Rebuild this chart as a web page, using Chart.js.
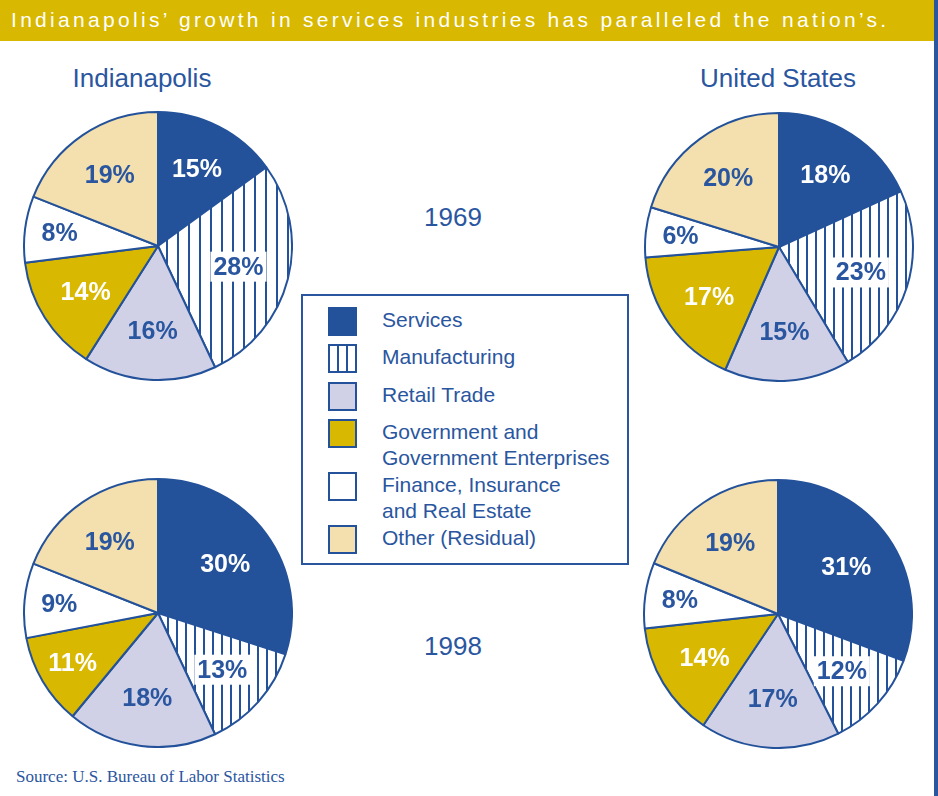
<!DOCTYPE html>
<html>
<head>
<meta charset="utf-8">
<script src="https://cdn.jsdelivr.net/npm/chart.js@4.4.1/dist/chart.umd.min.js"></script>
<style>
  html, body { margin: 0; padding: 0; background: #fff; }
  #page { position: relative; width: 938px; height: 796px; overflow: hidden; font-family: "Liberation Sans", Arial, sans-serif; color: #2a56a0; }
  #bar { position: absolute; left: 0; top: 0; width: 934px; height: 41px; background: #d8b800; }
  #bar span { position: absolute; left: 11px; top: 8px; color: #fff; font-size: 21px; letter-spacing: 3.3px; white-space: nowrap; }
  #edge { position: absolute; left: 934px; top: 0; width: 4px; height: 796px; background: #2a56a0; }
  .place, .year { position: absolute; font-size: 26px; line-height: 30px; text-align: center; width: 240px; margin-left: -120px; }
  .pie { position: absolute; width: 270px; height: 270px; }
  #legend { position: absolute; left: 301px; top: 294px; width: 324px; height: 267px; border: 2px solid #2a56a0; }
  .item { position: absolute; left: 25px; }
  .sw { position: absolute; left: 0; width: 25px; height: 25px; border: 2px solid #24529a; }
  .lbl { position: absolute; left: 54px; font-size: 21px; line-height: 26.5px; white-space: nowrap; }
  #source { position: absolute; left: 16px; top: 767px; font-family: "Liberation Serif", "Times New Roman", serif; font-size: 17px; color: #2a56a0; }
</style>
</head>
<body>
<div id="page">
  <div id="bar"><span>Indianapolis’ growth in services industries has paralleled the nation’s.</span></div>
  <div id="edge"></div>
  <div id="legend"></div>
  <div id="source">Source: U.S. Bureau of Labor Statistics</div>
</div>
<script>
// data
const categories = ['Services', 'Manufacturing', 'Retail Trade', 'Government and\nGovernment Enterprises', 'Finance, Insurance\nand Real Estate', 'Other (Residual)']
const places = ['Indianapolis', 'United States']
const years = ['1969', '1998']
const indy1969 = [15, 28, 16, 14, 8, 19]
const us1969 = [18, 23, 15, 17, 6, 20]
const indy1998 = [30, 13, 18, 11, 9, 19]
const us1998 = [31, 12, 17, 14, 8, 19]

// colours
const blue = '#24529a'
const textBlue = '#2a56a0'
const gold = '#d8b800'

function stripes(step) {
    const c = document.createElement('canvas')
    c.width = step; c.height = 10
    const g = c.getContext('2d')
    g.fillStyle = '#fff'
    g.fillRect(0, 0, step, 10)
    g.fillStyle = blue
    g.fillRect(0, 0, 2, 10)
    return g.createPattern(c, 'repeat')
}

const fills = [blue, null, '#d0d1e6', gold, '#ffffff', '#f4e0ae']
const labelColors = ['#fff', textBlue, textBlue, '#fff', textBlue, textBlue]

const page = document.getElementById('page')

// titles
const titleCols = [142, 778]
places.forEach((p, i) => {
    const d = document.createElement('div')
    d.className = 'place'
    d.style.left = titleCols[i] + 'px'
    d.style.top = '63px'
    d.innerText = p
    page.appendChild(d)
})
const rows = [217, 646]
years.forEach((y, i) => {
    const d = document.createElement('div')
    d.className = 'year'
    d.style.left = '453px'
    d.style.top = (rows[i] - 15) + 'px'
    d.innerText = y
    page.appendChild(d)
})

// legend
const legend = document.getElementById('legend')
const itemTops = [11, 48, 86, 123, 176, 229]
categories.forEach((cat, i) => {
    const it = document.createElement('div')
    it.className = 'item'
    it.style.top = itemTops[i] + 'px'
    const sw = document.createElement('div')
    sw.className = 'sw'
    if (i == 1) {
        sw.style.background = 'repeating-linear-gradient(90deg, #fff 0px, #fff 7px, ' + blue + ' 7px, ' + blue + ' 9px)'
    } else {
        sw.style.background = fills[i]
    }
    const lb = document.createElement('div')
    lb.className = 'lbl'
    lb.style.top = '-0.5px'
    lb.innerText = cat
    it.appendChild(sw)
    it.appendChild(lb)
    legend.appendChild(it)
})

// percent labels on the slices
const pieLabels = {
    id: 'pieLabels',
    afterDatasetsDraw(chart) {
        const ctx = chart.ctx
        const meta = chart.getDatasetMeta(0)
        const data = chart.data.datasets[0].data
        ctx.save()
        ctx.font = 'bold 25px "Liberation Sans", Arial, sans-serif'
        ctx.textAlign = 'center'
        ctx.textBaseline = 'middle'
        meta.data.forEach((arc, i) => {
            const v = data[i]
            const mid = (arc.startAngle + arc.endAngle) / 2
            const f = v < 12 ? 0.74 : (v >= 25 ? 0.62 : 0.64)
            const x = arc.x + Math.cos(mid) * arc.outerRadius * f
            const y = arc.y + Math.sin(mid) * arc.outerRadius * f
            const txt = v + '%'
            if (i == 1) {
                const w = ctx.measureText(txt).width
                ctx.fillStyle = '#fff'
                ctx.fillRect(x - w / 2 - 3, y - 15, w + 6, 30)
            }
            ctx.fillStyle = labelColors[i]
            ctx.fillText(txt, x, y + 1)
        })
        ctx.restore()
    }
}

function makePie(values, cx, cy, step) {
    const cv = document.createElement('canvas')
    cv.className = 'pie'
    cv.width = 270; cv.height = 270
    cv.style.left = (cx - 135) + 'px'
    cv.style.top = (cy - 135) + 'px'
    page.appendChild(cv)
    const bg = fills.map((c, i) => i == 1 ? stripes(step) : c)
    return new Chart(cv.getContext('2d'), {
        type: 'pie',
        data: {
            labels: categories,
            datasets: [{
                data: values,
                backgroundColor: bg,
                borderColor: blue,
                borderWidth: 2,
                hoverOffset: 0
            }]
        },
        options: {
            responsive: false,
            animation: false,
            events: [],
            layout: { padding: 0 },
            plugins: {
                legend: { display: false },
                tooltip: { enabled: false }
            }
        },
        plugins: [pieLabels]
    })
}

makePie(indy1969, 157.5, 245.5, 11)
makePie(us1969, 778.5, 247, 9.5)
makePie(indy1998, 157.5, 613, 9.5)
makePie(us1998, 777.5, 614, 9.5)
</script>
</body>
</html>
